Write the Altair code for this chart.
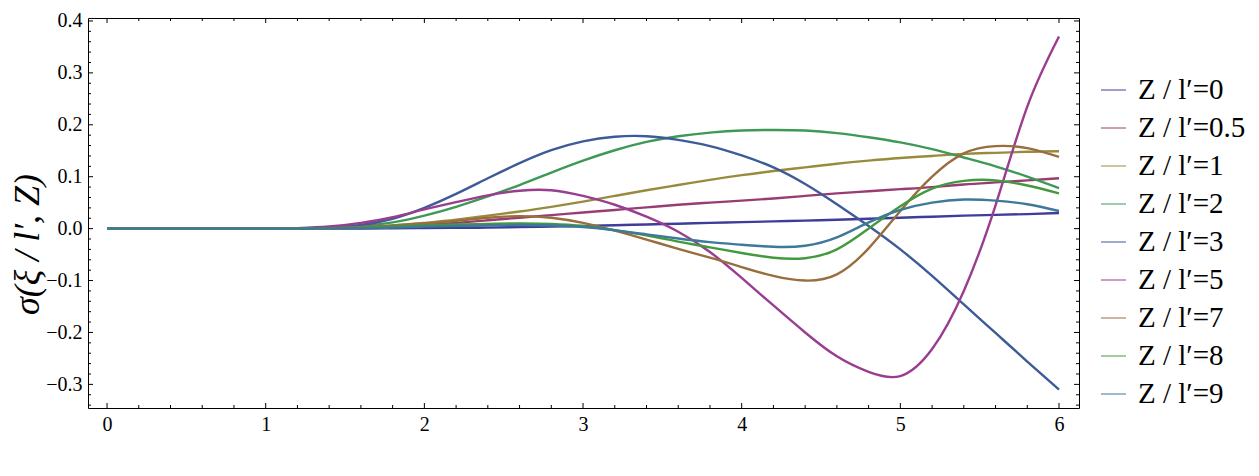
import altair as alt
import pandas as pd

# ---- data ----
x_vals = [0.0, 0.5, 1.0, 1.2, 1.4, 1.6, 1.8, 2.0, 2.2, 2.4, 2.6, 2.8, 3.0, 3.2,
          3.4, 3.6, 3.8, 4.0, 4.2, 4.4, 4.6, 4.8, 5.0, 5.2, 5.4, 5.6, 5.8, 6.0]

series_names = ["Z / l′=0", "Z / l′=0.5", "Z / l′=1", "Z / l′=2", "Z / l′=3",
                "Z / l′=5", "Z / l′=7", "Z / l′=8", "Z / l′=9"]

z0 = [0, 0, 0, 0, 0.0001, 0.0003, 0.0006, 0.001, 0.0015, 0.002, 0.003, 0.004, 0.005,
      0.0065, 0.008, 0.0095, 0.011, 0.0125, 0.014, 0.0155, 0.017, 0.019, 0.021, 0.023,
      0.025, 0.0265, 0.028, 0.030]
z05 = [0, 0, 0, 0.0002, 0.001, 0.002, 0.004, 0.007, 0.011, 0.016, 0.021, 0.026, 0.031,
       0.036, 0.041, 0.046, 0.050, 0.054, 0.058, 0.063, 0.068, 0.072, 0.076, 0.080,
       0.085, 0.089, 0.093, 0.097]
z1 = [0, 0, 0, 0.0002, 0.001, 0.003, 0.006, 0.011, 0.017, 0.025, 0.033, 0.042, 0.052,
      0.063, 0.074, 0.084, 0.094, 0.103, 0.111, 0.118, 0.125, 0.131, 0.136, 0.140,
      0.144, 0.146, 0.148, 0.149]
z2 = [0, 0, 0, 0.0003, 0.0015, 0.005, 0.012, 0.025, 0.042, 0.062, 0.084, 0.108, 0.131,
      0.151, 0.167, 0.178, 0.185, 0.189, 0.190, 0.189, 0.184, 0.176, 0.166, 0.153,
      0.137, 0.120, 0.100, 0.078]
z3 = [0, 0, 0, 0.0005, 0.002, 0.007, 0.019, 0.040, 0.067, 0.097, 0.126, 0.151, 0.168,
      0.177, 0.178, 0.171, 0.159, 0.141, 0.118, 0.086, 0.047, 0.005, -0.040, -0.091,
      -0.146, -0.201, -0.256, -0.310]
z5 = [0, 0, 0, 0.001, 0.004, 0.011, 0.022, 0.037, 0.051, 0.064, 0.073, 0.074, 0.063,
      0.046, 0.023, -0.006, -0.045, -0.095, -0.148, -0.200, -0.246, -0.276, -0.284,
      -0.232, -0.120, 0.045, 0.235, 0.370]
z7 = [0, 0, 0, 0.0003, 0.001, 0.003, 0.006, 0.010, 0.015, 0.021, 0.024, 0.021, 0.011,
      -0.004, -0.021, -0.039, -0.056, -0.074, -0.091, -0.100, -0.088, -0.038, 0.034,
      0.100, 0.145, 0.159, 0.155, 0.138]
z8 = [0, 0, 0, 0.0002, 0.0008, 0.002, 0.004, 0.006, 0.008, 0.009, 0.010, 0.009, 0.005,
      -0.003, -0.013, -0.025, -0.036, -0.047, -0.056, -0.057, -0.040, 0.000, 0.043,
      0.077, 0.092, 0.093, 0.083, 0.068]
z9 = [0, 0, 0, 0.0001, 0.0005, 0.001, 0.002, 0.004, 0.005, 0.006, 0.007, 0.006, 0.003,
      -0.003, -0.011, -0.019, -0.026, -0.031, -0.035, -0.033, -0.017, 0.012, 0.036,
      0.050, 0.056, 0.054, 0.047, 0.034]

all_series = [z0, z05, z1, z2, z3, z5, z7, z8, z9]

colors = ["#3f3d99", "#993d71", "#998b3d", "#3d9956", "#3d5a99",
          "#993d90", "#996d3d", "#43993d", "#3d7999"]

x_major = [0, 1, 2, 3, 4, 5, 6]
y_major = [-0.3, -0.2, -0.1, 0.0, 0.1, 0.2, 0.3, 0.4]
x_minor = [round(i * 0.2, 2) for i in range(0, 31) if i % 5 != 0]
y_minor = [round(-0.34 + i * 0.02, 2) for i in range(0, 38) if (i + 3) % 5 != 0]

y_title = "σ(ξ / l′, Z)"

# ---- build tables ----
rows = []
for k, (name, ys) in enumerate(zip(series_names, all_series)):
    for x, y in zip(x_vals, ys):
        rows.append({"x": x, "y": y, "series": name, "k": k})
df = pd.DataFrame(rows)

W, H = 991, 390
xscale = alt.Scale(domain=[-0.12, 6.126], nice=False, zero=False)
yscale = alt.Scale(domain=[-0.3455, 0.4057], nice=False, zero=False)
FONT = "Liberation Serif, Times New Roman, serif"

x_axis = alt.Axis(values=x_major, format="d", tickSize=0, domain=False, grid=False,
                  labelFont=FONT, labelFontSize=20, labelColor="black",
                  labelPadding=6, title=None)
y_axis = alt.Axis(values=y_major, format=".1f", tickSize=0, domain=False, grid=False,
                  labelFont=FONT, labelFontSize=20, labelColor="black",
                  labelPadding=6, title=y_title, titleFont=FONT,
                  titleFontSize=36, titleFontStyle="italic",
                  titleFontWeight="normal", titleColor="black",
                  titleX=-61, titleY=226, titleBaseline="middle",
                  titleAlign="center", titleAngle=270)

lines = alt.Chart(df).mark_line(strokeWidth=2.4, interpolate="natural").encode(
    x=alt.X("x:Q", scale=xscale, axis=x_axis),
    y=alt.Y("y:Q", scale=yscale, axis=y_axis),
    color=alt.Color("series:N", sort=series_names,
                    scale=alt.Scale(domain=series_names, range=colors),
                    legend=alt.Legend(orient="none", legendX=1011, legendY=53, title=None,
                                      symbolType="stroke", symbolSize=625,
                                      symbolStrokeWidth=1, labelFont=FONT,
                                      labelFontSize=29, labelColor="black",
                                      labelOffset=10, rowPadding=0, clipHeight=38,
                                      padding=0)),
    order=alt.Order("k:Q"),
    detail="series:N",
)

def tick_df(vals):
    return pd.DataFrame({"x": vals, "y": vals})

def xrule(vals, y0, y1):
    return alt.Chart(tick_df(vals)).mark_rule(color="black", strokeWidth=1).encode(
        x=alt.X("x:Q", scale=xscale, axis=x_axis), y=alt.value(y0), y2=alt.value(y1))

def yrule(vals, x0, x1):
    return alt.Chart(tick_df(vals)).mark_rule(color="black", strokeWidth=1).encode(
        y=alt.Y("y:Q", scale=yscale, axis=y_axis), x=alt.value(x0), x2=alt.value(x1))

ticks = [
    xrule(x_major, H, H - 5), xrule(x_minor, H, H - 3),
    xrule(x_major, 0, 5), xrule(x_minor, 0, 3),
    yrule(y_major, 0, 5), yrule(y_minor, 0, 3),
    yrule(y_major, W, W - 5), yrule(y_minor, W, W - 3),
]

chart = alt.layer(lines, *ticks).properties(
    width=W, height=H,
    autosize=alt.AutoSizeParams(type="none"),
    padding={"left": 80, "top": 10, "right": 170, "bottom": 56},
    background="white",
).configure_view(stroke="black", strokeWidth=1)

chart.save("out.html", embed_options={"renderer": "svg", "actions": False})
